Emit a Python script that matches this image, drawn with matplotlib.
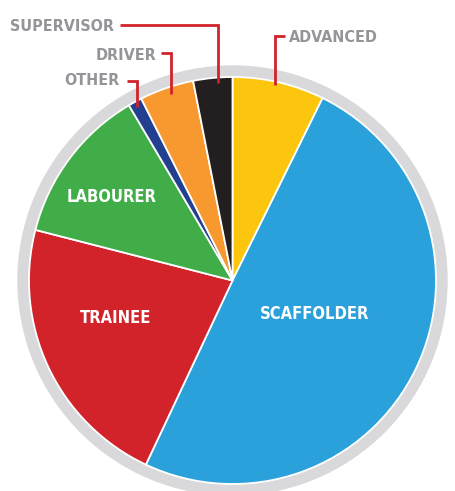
import matplotlib.pyplot as plt
from matplotlib import font_manager
from matplotlib.patches import Circle

# data (share of each role, clockwise from top)
roles = ['ADVANCED', 'SCAFFOLDER', 'TRAINEE', 'LABOURER', 'OTHER', 'DRIVER', 'SUPERVISOR']
shares = [7.3, 49.7, 22.0, 12.5, 1.1, 4.3, 3.1]
colors = ['#FCC60F', '#2AA1DB', '#D2232A', '#41AD49', '#233F8F', '#F7992E', '#231F20']

inside_labels = ['SCAFFOLDER', 'TRAINEE', 'LABOURER']
outside_labels = ['SUPERVISOR', 'DRIVER', 'OTHER', 'ADVANCED']

W, H = 456, 491

# look for the narrowest face installed, the original uses a tall condensed type
rank = {'ultra-condensed': 0, 'extra-condensed': 1, 'condensed': 2, 'semi-condensed': 3}
stretch = 'normal'
family = 'DejaVu Sans'
best = 9
for f in font_manager.fontManager.ttflist:
    k = rank.get(f.stretch, 9)
    if k == 9 and ('Narrow' in f.name or 'Condensed' in f.fname):
        k = 4
    if k < best:
        best, family, stretch = k, f.name, f.stretch
FONT = [family, 'DejaVu Sans']


def Y(y):
    # pixel row -> axes y
    return H - y


fig = plt.figure(figsize=(W / 100, H / 100), dpi=100)
ax = fig.add_axes([0, 0, 1, 1])

cx, cy, r = 232.5, Y(280.5), 203.5

# grey ring behind the pie
ax.add_patch(Circle((cx, cy), 214.5, color='#D9D9DB', zorder=0))

ax.pie(shares, colors=colors, startangle=90, counterclock=False,
       center=(cx, cy), radius=r, frame=True,
       wedgeprops=dict(edgecolor='white', linewidth=1.3))
ax.set_xlim(0, W)
ax.set_ylim(0, H)
ax.set_aspect('equal')
ax.axis('off')

renderer = fig.canvas.get_renderer()


def fit_size(s, width):
    # font size that gives the text the wanted width in px
    t = ax.text(0, 0, s, fontsize=16, fontweight='bold', family=FONT, fontstretch=stretch)
    w = t.get_window_extent(renderer).width
    t.remove()
    return min(17.5, 16 * width / w)


in_size = fit_size('SCAFFOLDER', 110)
out_size = fit_size('SUPERVISOR', 104)

# labels inside slices
inside_pos = {'SCAFFOLDER': (315, 314), 'TRAINEE': (116, 318), 'LABOURER': (112, 197)}
for name in inside_labels:
    x, y = inside_pos[name]
    ax.text(x, Y(y), name, color='white', fontsize=in_size, fontweight='bold',
            family=FONT, fontstretch=stretch, ha='center', va='center')

# labels outside with red leader lines
leaders = {
    'SUPERVISOR': [(120, 25), (218, 25), (218, 83)],
    'DRIVER': [(161, 53), (171, 53), (171, 94)],
    'OTHER': [(127, 81), (137, 81), (137, 107)],
    'ADVANCED': [(285, 36), (275, 36), (275, 85)],
}
text_pos = {
    'SUPERVISOR': (114, 26, 'right'),
    'DRIVER': (156, 55, 'right'),
    'OTHER': (120, 80, 'right'),
    'ADVANCED': (289, 37, 'left'),
}
for name in outside_labels:
    pts = leaders[name]
    ax.plot([p[0] for p in pts], [Y(p[1]) for p in pts], color='#D2232A',
            lw=2, solid_joinstyle='miter', solid_capstyle='butt', zorder=5)
    x, y, ha = text_pos[name]
    ax.text(x, Y(y), name, color='#939598', fontsize=out_size, fontweight='bold',
            family=FONT, fontstretch=stretch, ha=ha, va='center')

fig.savefig('out.png', dpi=100)
